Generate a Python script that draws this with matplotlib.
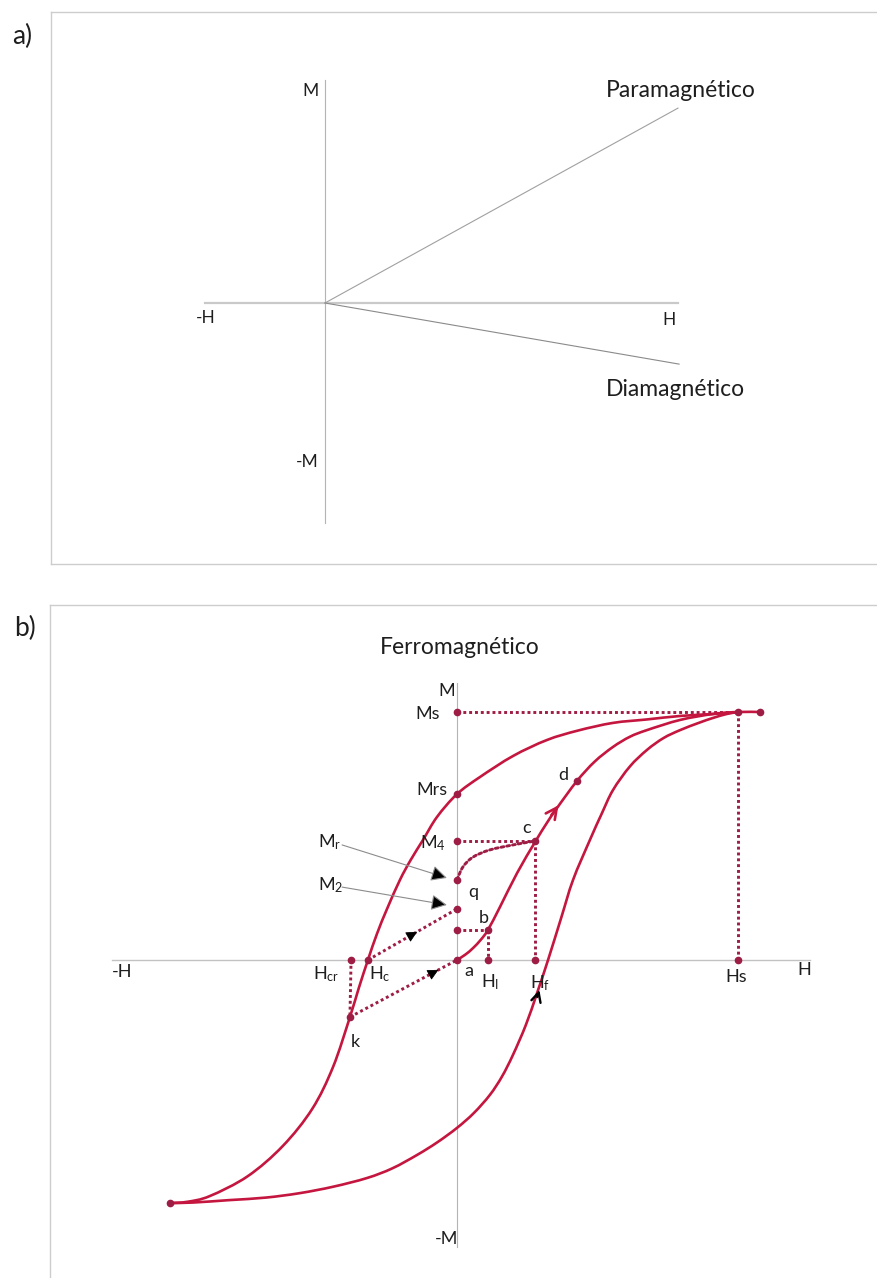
import matplotlib
matplotlib.use("Agg")
import matplotlib.pyplot as plt
from matplotlib.path import Path
from matplotlib.patches import PathPatch

plt.rcParams['font.family'] = ['Lato', 'DejaVu Sans']
plt.rcParams['mathtext.fontset'] = 'custom'
plt.rcParams['mathtext.rm'] = 'Lato'
plt.rcParams['mathtext.it'] = 'Lato'

# ---- panel a: linear responses (H scaled so axis end = 1) ----
para_h = [0.0, 1.0]
para_m = [0.0, 0.874]
dia_h = [0.0, 1.003]
dia_m = [0.0, -0.274]
axis_a_h = [-0.340, 1.0]
axis_a_m = [-0.987, 1.0]

# ---- panel b: hysteresis loop (H in units of Hs, M in units of Ms) ----
upper_h = [1.0, 0.911, 0.794, 0.676, 0.555, 0.430, 0.320, 0.200, 0.082, 0.0,
           -0.071, -0.121, -0.165, -0.203, -0.249, -0.285, -0.317, -0.350,
           -0.381, -0.441, -0.515, -0.620, -0.745, -0.880, -0.960, -1.021]
upper_m = [1.0, 0.992, 0.984, 0.970, 0.956, 0.925, 0.887, 0.823, 0.738, 0.669,
           0.577, 0.484, 0.403, 0.323, 0.206, 0.105, 0.0, -0.115,
           -0.230, -0.431, -0.600, -0.750, -0.872, -0.952, -0.975, -0.980]
lower_h = [-1.021, -0.940, -0.808, -0.680, -0.559, -0.440, -0.320, -0.230,
           -0.142, -0.070, 0.0, 0.060, 0.117, 0.160, 0.199, 0.245, 0.285,
           0.324, 0.370, 0.413, 0.473, 0.515, 0.555, 0.615, 0.676, 0.735,
           0.794, 0.860, 0.911, 0.960, 1.0]
lower_m = [-0.980, -0.978, -0.968, -0.958, -0.940, -0.914, -0.879, -0.840,
           -0.786, -0.735, -0.677, -0.617, -0.544, -0.470, -0.383, -0.262, -0.133,
           0.0, 0.167, 0.323, 0.484, 0.590, 0.685, 0.780, 0.847, 0.895,
           0.927, 0.956, 0.976, 0.992, 1.0]
initial_h = [0.0, 0.030, 0.057, 0.085, 0.110, 0.153, 0.214, 0.278, 0.320,
             0.356, 0.427, 0.490, 0.555, 0.615, 0.676, 0.794, 0.911, 1.0, 1.078]
initial_m = [0.0, 0.022, 0.048, 0.082, 0.121, 0.214, 0.351, 0.476, 0.553,
             0.613, 0.722, 0.800, 0.859, 0.900, 0.927, 0.968, 0.992, 1.0, 1.0]

# reversal path q -> c
qc_h = [0.0, 0.021, 0.057, 0.117, 0.199, 0.278]
qc_m = [0.323, 0.375, 0.415, 0.444, 0.464, 0.480]

# named points on the diagram
pts = {
    'Ms': (0.0, 1.0), 'sat': (1.0, 1.0), 'end': (1.078, 1.0), 'Hs': (1.0, 0.0),
    'Mrs': (0.0, 0.669), 'M4': (0.0, 0.480), 'c': (0.278, 0.480),
    'Hf': (0.278, 0.0), 'q': (0.0, 0.323), 'M2': (0.0, 0.206),
    'Mb': (0.0, 0.121), 'b': (0.110, 0.121), 'HI': (0.110, 0.0),
    'a': (0.0, 0.0), 'Hc': (-0.317, 0.0), 'Hcr': (-0.377, 0.0),
    'k': (-0.381, -0.230), 'd': (0.427, 0.722), 'tip': (-1.021, -0.980),
}
guides = [('Ms', 'sat'), ('sat', 'Hs'), ('M4', 'c'), ('c', 'Hf'),
          ('Mb', 'b'), ('b', 'HI'), ('Hc', 'M2'), ('k', 'a'), ('Hcr', 'k')]
dots = ['Ms', 'end', 'sat', 'Hs', 'Mrs', 'M4', 'c', 'Hf', 'q', 'M2', 'Mb',
        'b', 'HI', 'a', 'Hc', 'Hcr', 'k', 'd', 'tip']

labels_b = [
    ('M', -0.036, 1.085, 'center'), ('Ms', -0.103, 0.992, 'center'),
    ('Mrs', -0.089, 0.685, 'center'), (r'M$_{4}$', -0.132, 0.472, 'left'),
    (r'M$_{r}$', -0.495, 0.476, 'left'), (r'M$_{2}$', -0.495, 0.302, 'left'),
    ('q', 0.057, 0.274, 'center'), ('b', 0.096, 0.169, 'center'),
    ('c', 0.249, 0.532, 'center'), ('d', 0.377, 0.746, 'center'),
    ('a', 0.043, -0.044, 'center'), (r'H$_{I}$', 0.085, -0.089, 'left'),
    (r'H$_{f}$', 0.260, -0.093, 'left'), ('Hs', 0.993, -0.069, 'center'),
    ('H', 1.235, -0.040, 'center'), ('-H', -1.192, -0.048, 'center'),
    (r'H$_{cr}$', -0.512, -0.056, 'left'), (r'H$_{c}$', -0.313, -0.056, 'left'),
    ('k', -0.363, -0.331, 'center'), ('-M', -0.036, -1.125, 'center'),
]

CURVE = '#C4163F'
GUIDE = '#9E1D45'
TEXT = '#1e1e1e'
W, H = 877, 1278


def place(fig, left, top, right, bottom, ox, oy, sx, sy):
    """Axes over a pixel box; data origin at (ox, oy), sx/sy pixels per unit."""
    ax = fig.add_axes([left / W, 1 - bottom / H, (right - left) / W, (bottom - top) / H])
    ax.set_xlim((left - ox) / sx, (right - ox) / sx)
    ax.set_ylim((oy - bottom) / sy, (oy - top) / sy)
    ax.set_xticks([])
    ax.set_yticks([])
    for s in ax.spines.values():
        s.set_color('#cdcdcd')
        s.set_linewidth(1.0)
    return ax


def smooth_curve(ax, xs, ys, **kw):
    """Draw a Catmull-Rom style cubic Bezier through the given points."""
    p = list(zip(xs, ys))
    verts = [p[0]]
    codes = [Path.MOVETO]
    for i in range(len(p) - 1):
        p0 = p[i - 1] if i > 0 else p[i]
        p1, p2 = p[i], p[i + 1]
        p3 = p[i + 2] if i + 2 < len(p) else p[i + 1]
        c1 = (p1[0] + (p2[0] - p0[0]) / 6, p1[1] + (p2[1] - p0[1]) / 6)
        c2 = (p2[0] - (p3[0] - p1[0]) / 6, p2[1] - (p3[1] - p1[1]) / 6)
        verts += [c1, c2, p2]
        codes += [Path.CURVE4] * 3
    ax.add_patch(PathPatch(Path(verts, codes), fill=False, capstyle='round',
                           joinstyle='round', **kw))


fig = plt.figure(figsize=(W / 100, H / 100), dpi=100)

# ---------------- panel a ----------------
ax = place(fig, 51, 12, 880, 564, 325, 303, 353, 223)
ax.plot(axis_a_h, [0, 0], color='#c9c9c9', lw=1.6, zorder=1)
ax.plot([0, 0], axis_a_m, color='#b4b4b4', lw=0.8, zorder=1)
ax.plot(para_h, para_m, color='#a0a0a0', lw=0.8)
ax.plot(dia_h, dia_m, color='#8a8a8a', lw=0.8)
ax.text(-0.040, 0.951, 'M', ha='center', va='center', fontsize=12.5, color=TEXT)
ax.text(-0.051, -0.713, '-M', ha='center', va='center', fontsize=12.5, color=TEXT)
ax.text(-0.337, -0.067, '-H', ha='center', va='center', fontsize=12.5, color=TEXT)
ax.text(0.975, -0.076, 'H', ha='center', va='center', fontsize=12.5, color=TEXT)
ax.text(1.008, 0.951, 'Paramagnético', ha='center', va='center', fontsize=16.5, color=TEXT)
ax.text(0.992, -0.390, 'Diamagnético', ha='center', va='center', fontsize=16.5, color=TEXT)
fig.text(22 / W, 1 - 36 / H, 'a)', ha='center', va='center', fontsize=19, color=TEXT)

# ---------------- panel b ----------------
ax = place(fig, 50, 605, 880, 1290, 457, 960, 281, 248)
ax.plot([-1.228, 1.256], [0, 0], color='#c2c2c2', lw=1.0, zorder=1)
ax.plot([0, 0], [-1.157, 1.117], color='#b4b4b4', lw=0.8, zorder=1)

for p0, p1 in guides:
    (h0, m0), (h1, m1) = pts[p0], pts[p1]
    ax.plot([h0, h1], [m0, m1], color=GUIDE, lw=2.1, ls=(0, (1, 1.0)), zorder=2)
smooth_curve(ax, qc_h, qc_m, color=GUIDE, lw=2.1, ls=(0, (1, 1.0)), zorder=2)

for xs, ys in [(upper_h, upper_m), (lower_h, lower_m), (initial_h, initial_m)]:
    smooth_curve(ax, xs, ys, color=CURVE, lw=1.9, zorder=3)

ax.plot([pts[n][0] for n in dots], [pts[n][1] for n in dots], 'o',
        color=GUIDE, ms=4.5, zorder=4)

# direction arrows
ax.annotate('', xy=(0.367, 0.633), xytext=(0.330, 0.575),
            arrowprops=dict(arrowstyle='->', color=CURVE, lw=1.9, mutation_scale=20), zorder=5)
ax.annotate('', xy=(0.296, -0.110), xytext=(0.283, -0.160),
            arrowprops=dict(arrowstyle='->', color='black', lw=1.7, mutation_scale=17), zorder=5)
for (h0, m0), (h1, m1), f in [(pts['Hc'], pts['M2'], 0.58), (pts['k'], pts['a'], 0.85)]:
    tip = (h0 + f * (h1 - h0), m0 + f * (m1 - m0))
    tail = (h0 + (f - 0.1) * (h1 - h0), m0 + (f - 0.1) * (m1 - m0))
    ax.annotate('', xy=tip, xytext=tail,
                arrowprops=dict(arrowstyle='-|>', fc='black', ec='black', lw=0.6,
                                mutation_scale=17), zorder=5)

# pointers to M_r and M_2
for tail, tip in [((-0.409, 0.464), (-0.036, 0.331)), ((-0.409, 0.294), (-0.036, 0.222))]:
    ax.annotate('', xy=tip, xytext=tail,
                arrowprops=dict(arrowstyle='-|>', fc='black', ec='#8c8c8c', lw=0.8,
                                mutation_scale=24, shrinkA=0, shrinkB=0), zorder=5)

for txt, x, y, ha in labels_b:
    ax.text(x, y, txt, ha=ha, va='center', fontsize=13, color=TEXT, zorder=6)
ax.text(0.011, 1.262, 'Ferromagnético', ha='center', va='center', fontsize=16.5, color=TEXT)
fig.text(25 / W, 1 - 628 / H, 'b)', ha='center', va='center', fontsize=19, color=TEXT)

fig.savefig('out.png', dpi=100)
